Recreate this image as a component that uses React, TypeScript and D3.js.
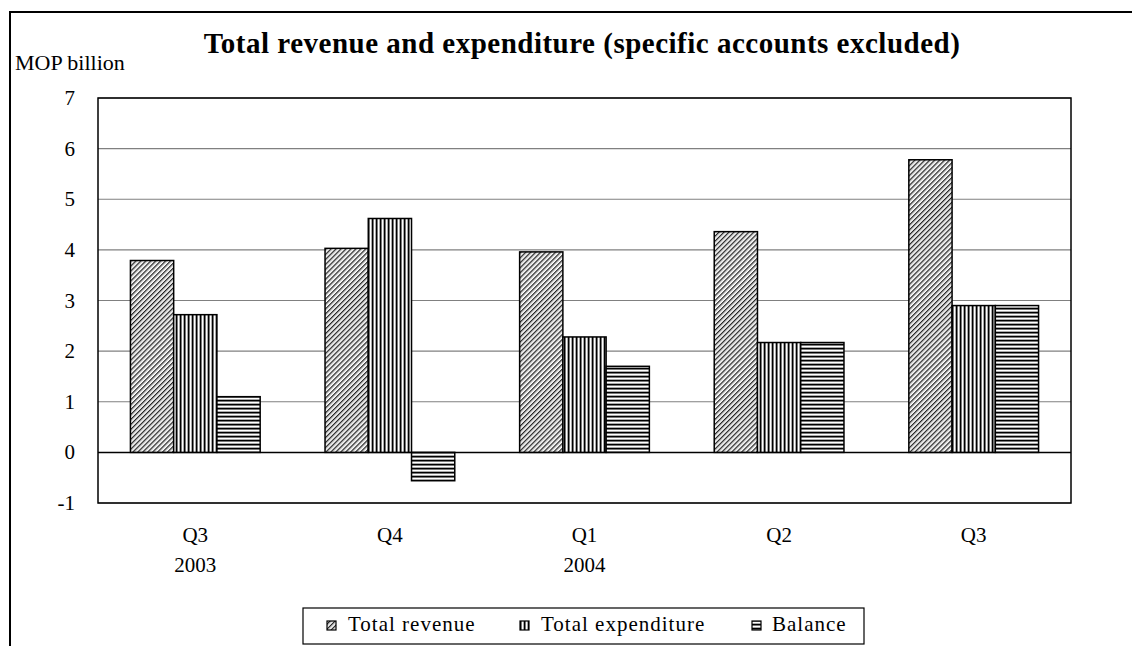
import React from "react";
import * as d3 from "d3";

// Quarterly public finance figures, MOP billion
const quarters = ["Q3", "Q4", "Q1", "Q2", "Q3"];
const years = ["2003", "", "2004", "", ""];
const seriesNames = ["Total revenue", "Total expenditure", "Balance"];
const totalRevenue = [3.79, 4.03, 3.96, 4.36, 5.78];
const totalExpenditure = [2.72, 4.62, 2.28, 2.17, 2.9];
const balance = [1.1, -0.56, 1.7, 2.17, 2.9];
const yTicks = [-1, 0, 1, 2, 3, 4, 5, 6, 7];

const W = 1132;
const H = 646;
const plot = { left: 98, right: 1071, top: 98, bottom: 503 };
const FONT = "Liberation Serif, DejaVu Serif, serif";
const txt = { fontFamily: FONT };

export default function App() {
  const x0 = d3
    .scaleBand<number>()
    .domain(d3.range(quarters.length))
    .range([plot.left, plot.right])
    .paddingInner(0)
    .paddingOuter(0);
  const bw = x0.bandwidth() / 4.5;
  const y = d3.scaleLinear().domain([-1, 7]).range([plot.bottom, plot.top]);

  const series = [totalRevenue, totalExpenditure, balance];
  const fills = ["url(#pRev)", "url(#pExp)", "url(#pBal)"];

  const legendItems = [
    { label: seriesNames[0], sx: 327, tx: 348 },
    { label: seriesNames[1], sx: 520, tx: 541 },
    { label: seriesNames[2], sx: 752, tx: 772 },
  ];

  return (
    <svg
      width={W}
      height={H}
      style={{ position: "absolute", left: 0, top: 0, background: "#fff", fontFamily: FONT }}
    >
      <defs>
        <pattern id="pRev" width={3.5} height={3.5} patternUnits="userSpaceOnUse" patternTransform="rotate(45)">
          <rect width={3.5} height={3.5} fill="#fff" />
          <rect x={0} width={1.2} height={3.5} fill="#222" />
          <rect x={1.2} width={0.8} height={3.5} fill="#999" />
        </pattern>
        <pattern id="pExp" width={4} height={4} patternUnits="userSpaceOnUse">
          <rect width={4} height={4} fill="#fff" />
          <rect x={0} width={1} height={4} fill="#000" />
          <rect x={1} width={1} height={4} fill="#777" />
          <rect x={3} width={1} height={4} fill="#aaa" />
        </pattern>
        <pattern id="pBal" width={4} height={4} patternUnits="userSpaceOnUse">
          <rect width={4} height={4} fill="#fff" />
          <rect y={0} width={4} height={1} fill="#000" />
          <rect y={1} width={4} height={1} fill="#777" />
          <rect y={3} width={4} height={1} fill="#aaa" />
        </pattern>
      </defs>

      {/* outer frame */}
      <rect x={10} y={12} width={W} height={H} fill="none" stroke="#000" strokeWidth={2} />

      <text
        x={582}
        y={53}
        textAnchor="middle"
        fontSize={29}
        fontWeight="bold"
        letterSpacing={0.5}
        style={txt}
      >
        Total revenue and expenditure (specific accounts excluded)
      </text>
      <text x={15} y={70} fontSize={22} style={txt}>
        MOP billion
      </text>

      {/* gridlines */}
      {yTicks.map((t) => (
        <line
          key={t}
          x1={plot.left}
          x2={plot.right}
          y1={y(t)}
          y2={y(t)}
          stroke={t === 0 ? "#000" : "#808080"}
          strokeWidth={t === 0 ? 1.5 : 1.2}
        />
      ))}
      {yTicks.map((t) => (
        <text key={"l" + t} x={75} y={y(t) + 7} textAnchor="end" fontSize={21} style={txt}>
          {t}
        </text>
      ))}

      {/* bars */}
      {series.map((vals, si) =>
        vals.map((v, i) => {
          const bx = (x0(i) as number) + bw * 0.75 + si * bw;
          const y1 = y(Math.max(0, v));
          const y2 = y(Math.min(0, v));
          return (
            <rect
              key={si + "-" + i}
              x={bx}
              y={y1}
              width={bw}
              height={y2 - y1}
              fill={fills[si]}
              stroke="#000"
              strokeWidth={1.5}
            />
          );
        })
      )}

      <rect
        x={plot.left}
        y={plot.top}
        width={plot.right - plot.left}
        height={plot.bottom - plot.top}
        fill="none"
        stroke="#000"
        strokeWidth={1.5}
      />

      {/* category labels */}
      {quarters.map((q, i) => {
        const cx = (x0(i) as number) + x0.bandwidth() / 2;
        return (
          <g key={"c" + i}>
            <text x={cx} y={542} textAnchor="middle" fontSize={21} style={txt}>
              {q}
            </text>
            {years[i] && (
              <text x={cx} y={572} textAnchor="middle" fontSize={21} style={txt}>
                {years[i]}
              </text>
            )}
          </g>
        );
      })}

      {/* legend */}
      <rect x={303} y={608} width={561} height={36} fill="#fff" stroke="#000" strokeWidth={1.2} />
      {legendItems.map((it, i) => (
        <g key={"lg" + i}>
          <rect x={it.sx} y={621} width={9} height={9} fill={fills[i]} stroke="#000" strokeWidth={1.2} />
          <text x={it.tx} y={631} fontSize={21} letterSpacing={1} style={txt}>
            {it.label}
          </text>
        </g>
      ))}
    </svg>
  );
}
